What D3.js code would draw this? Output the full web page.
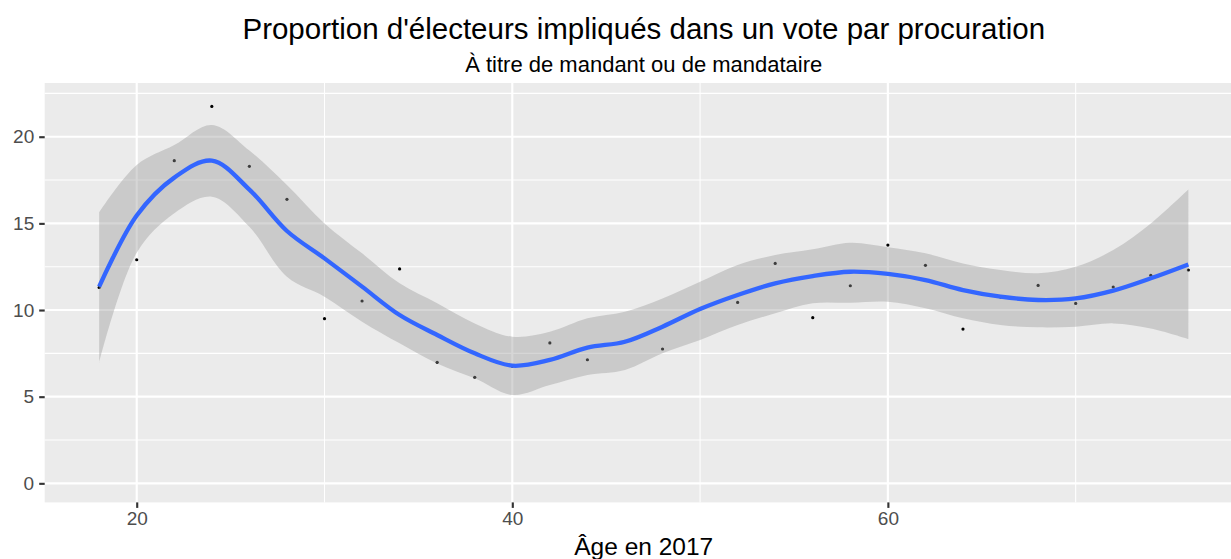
<!DOCTYPE html>
<html><head><meta charset="utf-8">
<script src="https://cdn.jsdelivr.net/npm/d3@7"></script>
<style>
body{margin:0;background:#fff;}
text{font-family:"Liberation Sans",Arial,Helvetica,sans-serif;}
</style></head>
<body>
<svg id="chart" width="1231" height="559"></svg>
<script>
const ages = [18,20,22,24,26,28,30,32,34,36,38,40,42,44,46,48,50,52,54,56,58,60,62,64,66,68,70,72,74,76];
const proportions = [11.3,12.9,18.62,21.75,18.29,16.39,9.5,10.52,12.37,6.98,6.12,6.75,8.1,7.13,8.2,7.75,10.06,10.44,12.69,9.56,11.4,13.75,12.58,8.9,10.75,11.42,10.38,11.33,12.0,12.31];
const smoothFit = [11.35,15.45,17.64,18.62,16.95,14.56,12.98,11.35,9.71,8.56,7.5,6.79,7.12,7.83,8.17,9.04,10.06,10.87,11.54,11.96,12.21,12.08,11.73,11.15,10.77,10.58,10.67,11.12,11.83,12.63];
const smoothLower = [6.96,13.3,15.58,16.54,14.8,11.92,10.77,9.33,8.08,6.92,6.06,5.1,5.67,6.25,6.54,7.5,8.27,9.13,9.81,10.39,10.42,10.48,10.1,9.52,9.13,9.0,9.04,9.23,8.94,8.33];
const smoothUpper = [15.64,18.37,19.52,20.68,19.2,17.21,15.0,13.27,11.54,10.39,9.23,8.46,8.75,9.52,9.9,10.67,11.63,12.6,13.17,13.5,13.88,13.62,13.27,12.69,12.31,12.12,12.5,13.46,15.0,16.96];
const xMajor = [20,40,60];
const xMinor = [30,50,70];
const yMajor = [0,5,10,15,20];
const yMinor = [2.5,7.5,12.5,17.5,22.5];
const titleText = "Proportion d'électeurs impliqués dans un vote par procuration";
const subtitleText = "À titre de mandant ou de mandataire";
const xTitle = "Âge en 2017";

const svg = d3.select("#chart");
const L = 44.7, R = 1242.8, T = 83.0, B = 502.4;
const x = d3.scaleLinear().domain([15.1, 78.9]).range([L, R]);
const y = d3.scaleLinear().domain([-1.1, 23.1]).range([B, T]);

svg.append("rect").attr("x", L).attr("y", T).attr("width", R - L).attr("height", B - T).attr("fill", "#EBEBEB");

const g = svg.append("g");
g.selectAll(".ymin").data(yMinor).join("line")
  .attr("x1", L).attr("x2", R).attr("y1", d => y(d)).attr("y2", d => y(d))
  .attr("stroke", "#fff").attr("stroke-width", 1.07);
g.selectAll(".xmin").data(xMinor).join("line")
  .attr("y1", T).attr("y2", B).attr("x1", d => x(d)).attr("x2", d => x(d))
  .attr("stroke", "#fff").attr("stroke-width", 1.07);
g.selectAll(".ymaj").data(yMajor).join("line")
  .attr("x1", L).attr("x2", R).attr("y1", d => y(d)).attr("y2", d => y(d))
  .attr("stroke", "#fff").attr("stroke-width", 2.13);
g.selectAll(".xmaj").data(xMajor).join("line")
  .attr("y1", T).attr("y2", B).attr("x1", d => x(d)).attr("x2", d => x(d))
  .attr("stroke", "#fff").attr("stroke-width", 2.13);

const rows = ages.map((a, i) => ({a, p: proportions[i], f: smoothFit[i], lo: smoothLower[i], hi: smoothUpper[i]}));

// points
svg.append("g").selectAll("circle").data(rows).join("circle")
  .attr("cx", d => x(d.a)).attr("cy", d => y(d.p)).attr("r", 1.6).attr("fill", "#000");

// ribbon
const area = d3.area().x(d => x(d.a)).y0(d => y(d.lo)).y1(d => y(d.hi)).curve(d3.curveCatmullRom.alpha(0.5));
svg.append("path").datum(rows).attr("d", area).attr("fill", "#999999").attr("fill-opacity", 0.4);

// smooth line
const line = d3.line().x(d => x(d.a)).y(d => y(d.f)).curve(d3.curveCatmullRom.alpha(0.5));
svg.append("path").datum(rows).attr("d", line).attr("fill", "none")
  .attr("stroke", "#3366FF").attr("stroke-width", 4.3).attr("stroke-linejoin", "round");

// axes
const xAxis = d3.axisBottom(x).tickValues(xMajor).tickSize(5.5).tickPadding(4);
const xg = svg.append("g").attr("transform", `translate(0,${B})`).call(xAxis);
xg.select(".domain").remove();
xg.selectAll("line").attr("stroke", "#333333").attr("stroke-width", 2.13);
xg.selectAll("text").attr("fill", "#4D4D4D").attr("font-size", 19).attr("font-family", "Liberation Sans, Arial, sans-serif");

const yAxis = d3.axisLeft(y).tickValues(yMajor).tickSize(5.5).tickPadding(5);
const yg = svg.append("g").attr("transform", `translate(${L},0)`).call(yAxis);
yg.select(".domain").remove();
yg.selectAll("line").attr("stroke", "#333333").attr("stroke-width", 2.13);
yg.selectAll("text").attr("fill", "#4D4D4D").attr("font-size", 19).attr("font-family", "Liberation Sans, Arial, sans-serif");

const cx = (L + R) / 2;
svg.append("text").attr("x", cx).attr("y", 39).attr("text-anchor", "middle")
  .attr("font-size", 29.5).attr("fill", "#000").text(titleText);
svg.append("text").attr("x", cx).attr("y", 71.5).attr("text-anchor", "middle")
  .attr("font-size", 22).attr("fill", "#000").text(subtitleText);
svg.append("text").attr("x", cx).attr("y", 555).attr("text-anchor", "middle")
  .attr("font-size", 24.5).attr("fill", "#000").text(xTitle);
</script>
</body></html>
